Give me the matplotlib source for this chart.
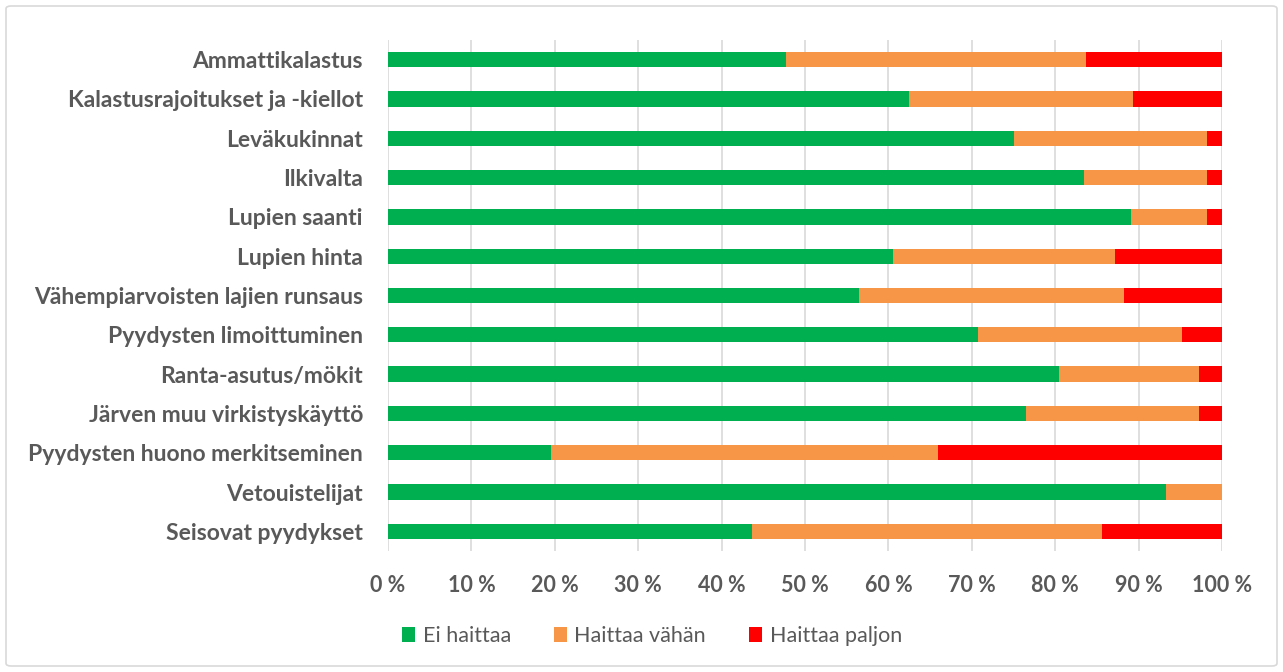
import matplotlib.pyplot as plt
import numpy as np
from matplotlib.patches import FancyBboxPatch

# categories, top to bottom as in the chart
categories = [
    "Ammattikalastus",
    "Kalastusrajoitukset ja -kiellot",
    "Leväkukinnat",
    "Ilkivalta",
    "Lupien saanti",
    "Lupien hinta",
    "Vähempiarvoisten lajien runsaus",
    "Pyydysten limoittuminen",
    "Ranta-asutus/mökit",
    "Järven muu virkistyskäyttö",
    "Pyydysten huono merkitseminen",
    "Vetouistelijat",
    "Seisovat pyydykset",
]

# shares in percent
ei_haittaa = [47.7, 62.5, 75.0, 83.4, 89.1, 60.5, 56.5, 70.8, 80.4, 76.5, 19.6, 93.3, 43.7]
haittaa_vahan = [36.0, 26.8, 23.2, 14.8, 9.1, 26.7, 31.8, 24.4, 16.9, 20.8, 46.3, 6.7, 41.9]
haittaa_paljon = [16.3, 10.7, 1.8, 1.8, 1.8, 12.8, 11.7, 4.8, 2.7, 2.7, 34.1, 0.0, 14.4]

series_names = ["Ei haittaa", "Haittaa vähän", "Haittaa paljon"]
colors = ["#00B050", "#F79646", "#FF0000"]
text_col = "#595959"

plt.rcParams['font.family'] = ['Lato', 'DejaVu Sans']

fig = plt.figure(figsize=(12.83, 6.72), dpi=100)
ax = fig.add_axes([388 / 1283, 1 - 551 / 672, 834 / 1283, 511 / 672])

y = np.arange(len(categories))
left = np.zeros(len(categories))
for vals, name, c in zip([ei_haittaa, haittaa_vahan, haittaa_paljon], series_names, colors):
    ax.barh(y, vals, left=left, height=0.39, color=c, label=name, zorder=3)
    left += np.array(vals)

ax.set_ylim(len(categories) - 0.5, -0.5)
ax.set_xlim(0, 100)
ax.set_xticks(np.arange(0, 101, 10))
ax.set_xticklabels([f"{v} %" for v in range(0, 101, 10)])
ax.set_yticks(y)
ax.set_yticklabels(categories)

ax.grid(axis='x', color="#D9D9D9", linewidth=1.2, zorder=0)
for s in ax.spines.values():
    s.set_visible(False)
ax.tick_params(axis='both', length=0, colors=text_col)
ax.tick_params(axis='y', pad=18, labelsize=16.5)
ax.tick_params(axis='x', pad=17, labelsize=15.5)
for lab in ax.get_xticklabels() + ax.get_yticklabels():
    lab.set_fontweight('bold')
    lab.set_color(text_col)

leg = fig.legend(loc='center', bbox_to_anchor=(652 / 1283, 1 - 636 / 672), ncol=3,
                 frameon=False, fontsize=15.5, handlelength=0.6, handleheight=0.7,
                 handletextpad=0.35, columnspacing=2.0)
for t in leg.get_texts():
    t.set_color(text_col)

# thin outer frame of the chart area
frame = FancyBboxPatch((6 / 1283, 6 / 672), 1271 / 1283, 660 / 672,
                       boxstyle="round,pad=0,rounding_size=0.004",
                       transform=fig.transFigure, fill=False,
                       edgecolor="#D9D9D9", linewidth=1.2)
fig.patches.append(frame)

fig.savefig("out.png", dpi=100)
